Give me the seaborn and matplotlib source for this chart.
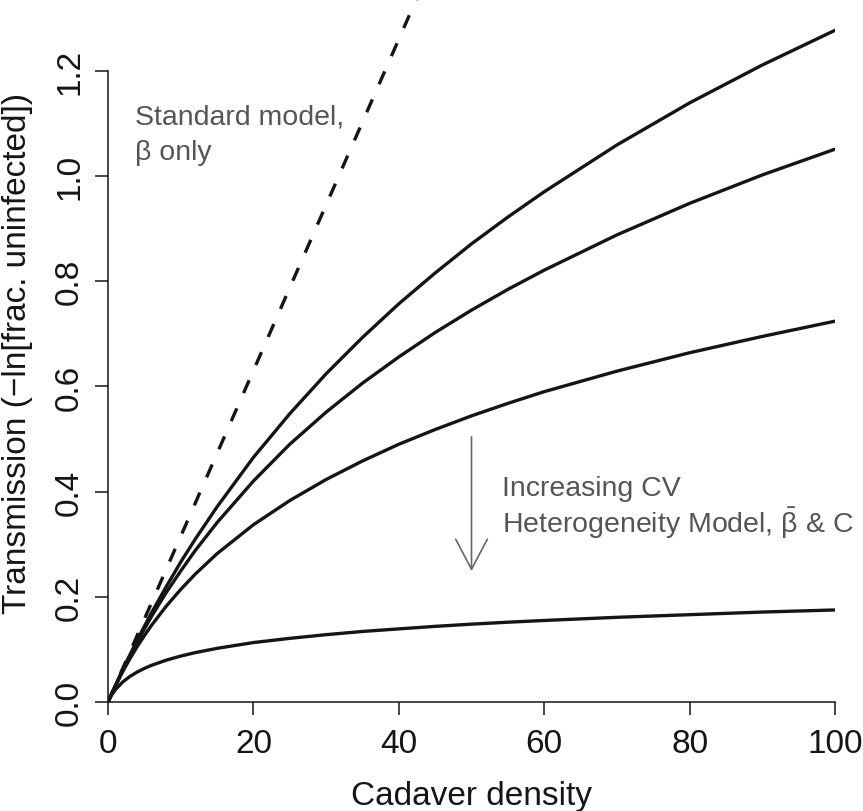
import pandas as pd
import seaborn as sns
import matplotlib
matplotlib.use("Agg")
import matplotlib.pyplot as plt

# values (four heterogeneity curves, CV rising)
density = [0, 0.5, 1, 2, 3, 4, 5, 6, 8, 10, 12, 15, 20, 25, 30, 35, 40, 45, 50, 55,
           60, 70, 80, 90, 100]
cv_low = [0, 0.0156, 0.0309, 0.0606, 0.0893, 0.117, 0.1438, 0.170, 0.219, 0.266, 0.3096,
          0.371, 0.465, 0.548, 0.624, 0.693, 0.757, 0.8156, 0.871, 0.9219, 0.970, 1.059,
          1.139, 1.211, 1.277]
cv_mid = [0, 0.0155, 0.0306, 0.0597, 0.0872, 0.1135, 0.1386, 0.163, 0.208, 0.249, 0.288,
          0.341, 0.420, 0.490, 0.551, 0.6061, 0.656, 0.7024, 0.745, 0.7844, 0.821, 0.888,
          0.948, 1.002, 1.051]
cv_high = [0, 0.0153, 0.0299, 0.0571, 0.0819, 0.105, 0.1261, 0.146, 0.182, 0.214, 0.2431,
           0.282, 0.337, 0.383, 0.423, 0.4582, 0.490, 0.518, 0.544, 0.5677, 0.590, 0.629,
           0.664, 0.695, 0.724]
cv_vhigh = [0, 0.0133, 0.0232, 0.0378, 0.0485, 0.0569, 0.0639, 0.0698, 0.0795, 0.0873,
            0.0939, 0.102, 0.113, 0.121, 0.128, 0.1341, 0.139, 0.1438, 0.148, 0.1517,
            0.155, 0.161, 0.166, 0.171, 0.175]
# standard model: straight line, runs off the top
standard_x = [0, 100]
standard_y = [0, 3.15]

sns.set_theme(style="ticks")
plt.rcParams["font.family"] = ["Liberation Sans", "DejaVu Sans"]
plt.rcParams["mathtext.fontset"] = "custom"
plt.rcParams["mathtext.rm"] = "Liberation Sans"
plt.rcParams["mathtext.it"] = "Liberation Sans"
plt.rcParams["mathtext.bf"] = "Liberation Sans:bold"

W, H = 863, 812
fig = plt.figure(figsize=(W / 100, H / 100), dpi=100)
ax = fig.add_axes([108 / W, 1 - 703 / H, (835 - 108) / W, 703 / H])

ink = "#151515"
n = len(density)
df = pd.DataFrame({"density": density * 4,
                   "trans": cv_low + cv_mid + cv_high + cv_vhigh,
                   "curve": ["a"] * n + ["b"] * n + ["c"] * n + ["d"] * n})
sns.lineplot(data=df, x="density", y="trans", units="curve", estimator=None,
             color=ink, lw=2.4, ax=ax)
sns.lineplot(x=standard_x, y=standard_y, color=ink, lw=2.4,
             linestyle=(0, (4.2, 5.0)), ax=ax)

ax.set_xlim(0, 100)
ax.set_ylim(0, 703 / 526)
ax.set_xticks([0, 20, 40, 60, 80, 100])
ax.set_yticks([0, 0.2, 0.4, 0.6, 0.8, 1.0, 1.2])
ax.set_yticklabels(["0.0", "0.2", "0.4", "0.6", "0.8", "1.0", "1.2"])
sns.despine(ax=ax)
ax.spines["left"].set_bounds(0, 1.2)
ax.spines["bottom"].set_bounds(0, 100)
for s in ("left", "bottom"):
    ax.spines[s].set_linewidth(1.1)
    ax.spines[s].set_color(ink)
ax.tick_params(axis="both", direction="out", length=9.5, width=1.1, color=ink,
               labelsize=24, labelcolor=ink)
ax.tick_params(axis="x", pad=9)
ax.tick_params(axis="y", pad=7, labelrotation=90)
for t in ax.get_yticklabels():
    t.set_va("center")

ax.set_xlabel("Cadaver density", fontsize=24, color=ink)
ax.set_ylabel("Transmission (\u2212ln[frac. uninfected])", fontsize=24, color=ink)
ax.xaxis.set_label_coords(0.5, -0.111)
ax.yaxis.set_label_coords(-0.1025, 0.497)

gray = "#555555"
note = dict(fontsize=20.5, color=gray, va="baseline")
ax.text(3.7, 1.099, "Standard model,", **note)
ax.text(3.7, 1.032, "\u03b2 only", **note)
ax.text(54.2, 0.394, "Increasing CV", **note)
ax.text(54.2, 0.323, r"Heterogeneity Model, $\bar{\beta}$ & C", **note)
ax.annotate("", xy=(50, 0.249), xytext=(50, 0.504),
            arrowprops=dict(arrowstyle="->,head_length=1.8,head_width=0.95",
                            color="#666666", lw=1.2, shrinkA=0, shrinkB=0))

fig.savefig("out.png", dpi=100)
